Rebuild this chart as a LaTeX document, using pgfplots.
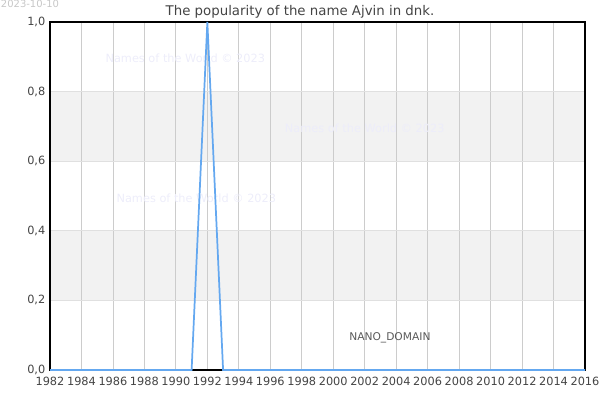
\documentclass[border=0pt]{standalone}
\usepackage{fontspec}
\setmainfont{DejaVu Sans}
\usepackage{pgfplots}
\pgfplotsset{compat=1.18}
\definecolor{lineblue}{HTML}{64A8F0}
\definecolor{band}{HTML}{F2F2F2}
\definecolor{txt}{HTML}{444444}
\definecolor{wm}{HTML}{EDEDFA}
\begin{document}
\begin{tikzpicture}
\begin{axis}[
  set layers,
  at={(0,0)}, anchor=south west,
  scale only axis,
  width=401.25pt, height=261pt,
  xmin=1982, xmax=2016, ymin=0, ymax=1,
  xtick={1982,1984,...,2016},
  ytick={0,0.2,0.4,0.6,0.8,1.0},
  major tick length=0pt,
  xticklabel style={/pgf/number format/1000 sep={}, yshift=-1.5pt},
  yticklabel style={/pgf/number format/.cd,fixed,fixed zerofill,precision=1,use comma},
  /pgf/number format/assume math mode=true,
  tick label style={font=\fontsize{8.5}{10}\selectfont, text=txt},
  xmajorgrids, ymajorgrids,
  x grid style={draw=black!20, line width=0.6pt},
  y grid style={draw=black!12, line width=0.6pt},
  axis line style={black, line width=1pt},
  clip=false,
]
\addplot[fill=band, draw=none, on layer=axis background] coordinates {(1982,0.2) (2016,0.2) (2016,0.4) (1982,0.4)} -- cycle;
\addplot[fill=band, draw=none, on layer=axis background] coordinates {(1982,0.6) (2016,0.6) (2016,0.8) (1982,0.8)} -- cycle;
\node[wm, font=\fontsize{8.5}{10}\selectfont] at (axis cs:1990.6,0.897) {Names of the World © 2023};
\node[wm, font=\fontsize{8.5}{10}\selectfont] at (axis cs:2002.0,0.695) {Names of the World © 2023};
\node[wm, font=\fontsize{8.5}{10}\selectfont] at (axis cs:1991.3,0.494) {Names of the World © 2023};
\node[black!65, font=\fontsize{8}{9}\selectfont] at (axis cs:2003.6,0.092) {NANO\_DOMAIN};
\addplot[lineblue, line width=1.3pt, mark=none] coordinates {
(1982,0) (1983,0) (1984,0) (1985,0) (1986,0) (1987,0) (1988,0) (1989,0) (1990,0) (1991,0)
(1992,1)
(1993,0) (1994,0) (1995,0) (1996,0) (1997,0) (1998,0) (1999,0) (2000,0) (2001,0) (2002,0)
(2003,0) (2004,0) (2005,0) (2006,0) (2007,0) (2008,0) (2009,0) (2010,0) (2011,0) (2012,0)
(2013,0) (2014,0) (2015,0) (2016,0)
};
\end{axis}
\node[txt, font=\fontsize{10}{12}\selectfont] at (187.5pt,269pt) {The popularity of the name Ajvin in dnk.};
\node[black!22, font=\fontsize{7.5}{9}\selectfont] at (-15pt,274.5pt) {2023-10-10};
\pgfresetboundingbox
\path[use as bounding box] (-37.5pt,-22.5pt) rectangle (412.5pt,277.5pt);
\end{tikzpicture}
\end{document}
